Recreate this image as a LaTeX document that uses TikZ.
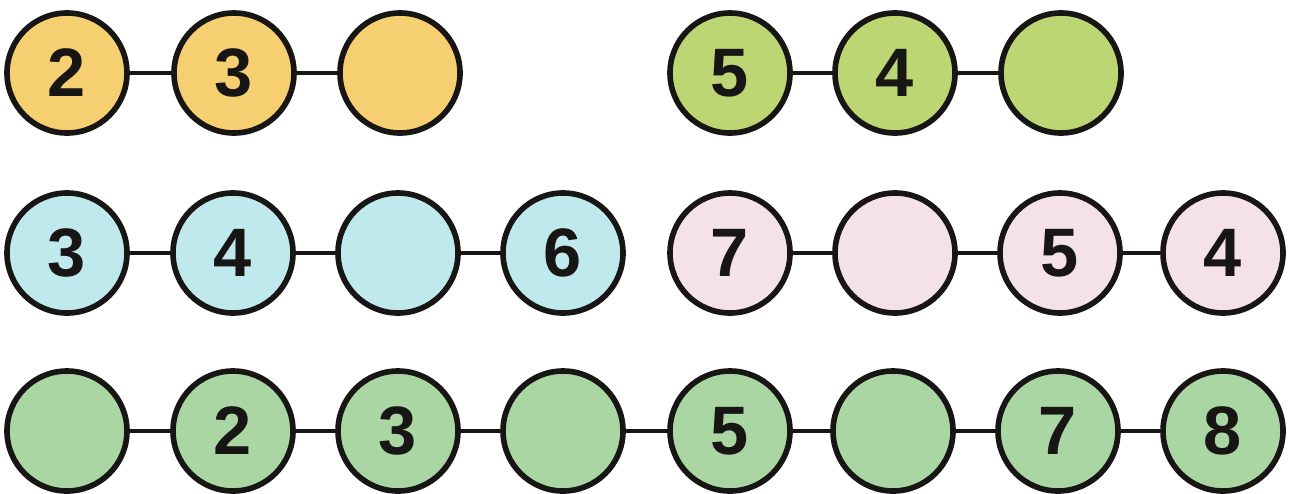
\documentclass[tikz,border=0pt]{standalone}
\usepackage{fontspec}
\setmainfont{Liberation Sans}
\definecolor{amberfill}{RGB}{246,207,112}
\definecolor{limefill}{RGB}{188,214,116}
\definecolor{skyfill}{RGB}{192,233,238}
\definecolor{rosefill}{RGB}{245,226,233}
\definecolor{leaffill}{RGB}{170,214,164}
\definecolor{ink}{RGB}{24,22,20}

\begin{document}
\begin{tikzpicture}[
  ball/.style={circle,draw=ink,line width=3.2pt,minimum size=2.4cm,inner sep=0pt,
    font=\bfseries\fontsize{39}{42}\selectfont,text=ink},
  link/.style={draw=ink,line width=2.6pt},
]
\useasboundingbox (0,0) rectangle (25.9,9.86);
% top row
\node[ball,fill=amberfill] (y1) at (1.34,8.4) {2};
\node[ball,fill=amberfill] (y2) at (4.68,8.4) {3};
\node[ball,fill=amberfill] (y3) at (8.00,8.4) {};
\node[ball,fill=limefill] (l1) at (14.60,8.4) {5};
\node[ball,fill=limefill] (l2) at (17.90,8.4) {4};
\node[ball,fill=limefill] (l3) at (21.22,8.4) {};
\draw[link] (y1) -- (y2) (y2) -- (y3);
\draw[link] (l1) -- (l2) (l2) -- (l3);
% middle row
\node[ball,fill=skyfill] (b1) at (1.34,4.8) {3};
\node[ball,fill=skyfill] (b2) at (4.66,4.8) {4};
\node[ball,fill=skyfill] (b3) at (7.96,4.8) {};
\node[ball,fill=skyfill] (b4) at (11.26,4.8) {6};
\node[ball,fill=rosefill] (p1) at (14.60,4.8) {7};
\node[ball,fill=rosefill] (p2) at (17.90,4.8) {};
\node[ball,fill=rosefill] (p3) at (21.20,4.8) {5};
\node[ball,fill=rosefill] (p4) at (24.46,4.8) {4};
\draw[link] (b1) -- (b2) (b2) -- (b3) (b3) -- (b4);
\draw[link] (p1) -- (p2) (p2) -- (p3) (p3) -- (p4);
% bottom row
\node[ball,fill=leaffill] (g1) at (1.34,1.24) {};
\node[ball,fill=leaffill] (g2) at (4.66,1.24) {2};
\node[ball,fill=leaffill] (g3) at (7.96,1.24) {3};
\node[ball,fill=leaffill] (g4) at (11.26,1.24) {};
\node[ball,fill=leaffill] (g5) at (14.60,1.24) {5};
\node[ball,fill=leaffill] (g6) at (17.86,1.24) {};
\node[ball,fill=leaffill] (g7) at (21.16,1.24) {7};
\node[ball,fill=leaffill] (g8) at (24.46,1.24) {8};
\draw[link] (g1) -- (g2) (g2) -- (g3) (g3) -- (g4) (g4) -- (g5)
  (g5) -- (g6) (g6) -- (g7) (g7) -- (g8);
\end{tikzpicture}
\end{document}
